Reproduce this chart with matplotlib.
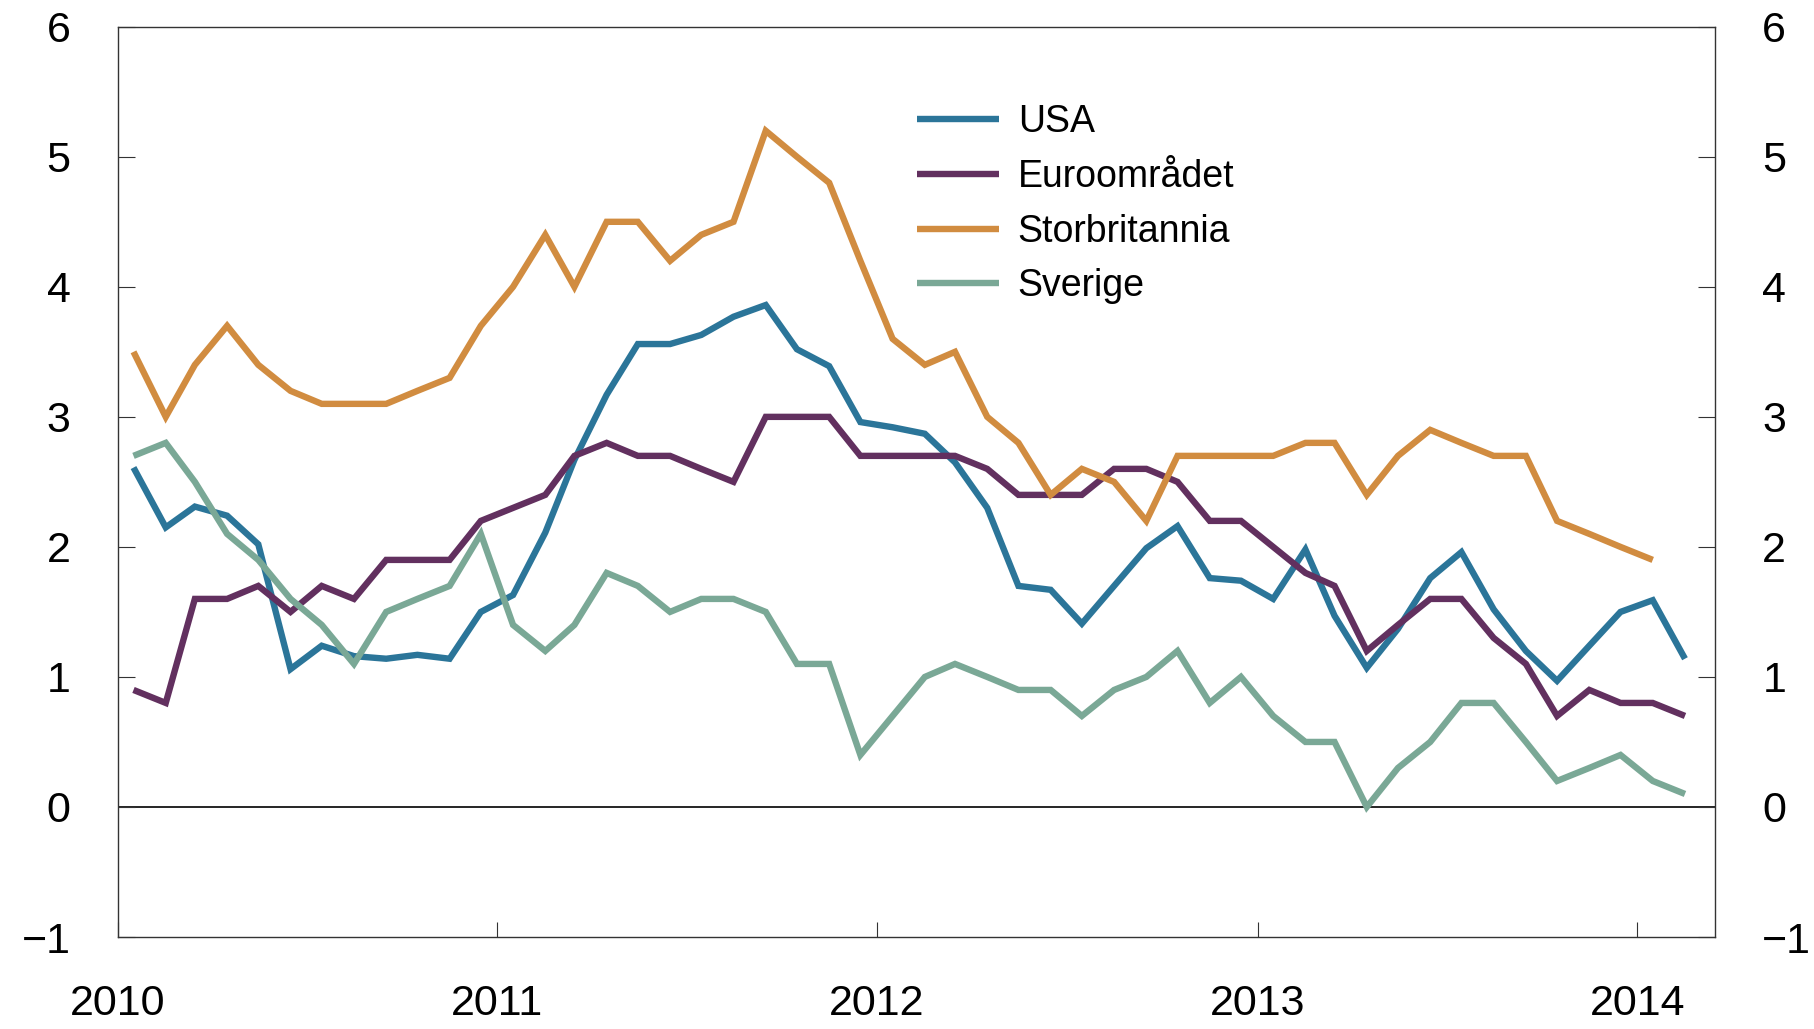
import numpy as np
import pandas as pd
import matplotlib
matplotlib.use("Agg")
import matplotlib.pyplot as plt
import matplotlib.dates as mdates

plt.rcParams['font.family'] = ['Liberation Sans', 'DejaVu Sans']

# månedlige observasjoner, jan 2010 -
usa = [2.61, 2.15, 2.31, 2.24, 2.02, 1.06, 1.24, 1.16, 1.14, 1.17,
       1.14, 1.50, 1.63, 2.11, 2.67, 3.17, 3.56, 3.56, 3.63, 3.77,
       3.86, 3.52, 3.39, 2.96, 2.92, 2.87, 2.65, 2.30, 1.70, 1.67,
       1.41, 1.70, 1.99, 2.16, 1.76, 1.74, 1.60, 1.98, 1.47, 1.07,
       1.37, 1.76, 1.96, 1.52, 1.20, 0.97, 1.24, 1.50, 1.59, 1.14]
euro = [0.9, 0.8, 1.6, 1.6, 1.7, 1.5, 1.7, 1.6, 1.9, 1.9,
        1.9, 2.2, 2.3, 2.4, 2.7, 2.8, 2.7, 2.7, 2.6, 2.5,
        3.0, 3.0, 3.0, 2.7, 2.7, 2.7, 2.7, 2.6, 2.4, 2.4,
        2.4, 2.6, 2.6, 2.5, 2.2, 2.2, 2.0, 1.8, 1.7, 1.2,
        1.4, 1.6, 1.6, 1.3, 1.1, 0.7, 0.9, 0.8, 0.8, 0.7]
uk = [3.5, 3.0, 3.4, 3.7, 3.4, 3.2, 3.1, 3.1, 3.1, 3.2,
      3.3, 3.7, 4.0, 4.4, 4.0, 4.5, 4.5, 4.2, 4.4, 4.5,
      5.2, 5.0, 4.8, 4.2, 3.6, 3.4, 3.5, 3.0, 2.8, 2.4,
      2.6, 2.5, 2.2, 2.7, 2.7, 2.7, 2.7, 2.8, 2.8, 2.4,
      2.7, 2.9, 2.8, 2.7, 2.7, 2.2, 2.1, 2.0, 1.9]
sverige = [2.7, 2.8, 2.5, 2.1, 1.9, 1.6, 1.4, 1.1, 1.5, 1.6,
           1.7, 2.1, 1.4, 1.2, 1.4, 1.8, 1.7, 1.5, 1.6, 1.6,
           1.5, 1.1, 1.1, 0.4, 0.7, 1.0, 1.1, 1.0, 0.9, 0.9,
           0.7, 0.9, 1.0, 1.2, 0.8, 1.0, 0.7, 0.5, 0.5, 0.0,
           0.3, 0.5, 0.8, 0.8, 0.5, 0.2, 0.3, 0.4, 0.2, 0.1]

labels = ["USA", "Euroområdet", "Storbritannia", "Sverige"]
colors = ["#2B7599", "#62305F", "#D18C40", "#7AA896"]
series = [usa, euro, uk, sverige]

# punktene ligger midt i måneden
months = pd.date_range("2010-01-01", periods=50, freq="MS") + pd.Timedelta(days=15)

fig = plt.figure(figsize=(18.14, 10.29), dpi=100)
ax = fig.add_axes([0.065, 0.0894, 0.8805, 0.8846])

for vals, lab, col in zip(series, labels, colors):
    ax.plot(months[:len(vals)], vals, color=col, lw=4.6, label=lab,
            solid_capstyle="butt", solid_joinstyle="miter")

ax.axhline(0, color="black", lw=1.2, zorder=1)

ax.set_ylim(-1, 6)
ax.set_yticks(range(-1, 7))
ax.set_xlim(pd.Timestamp("2010-01-01"), pd.Timestamp("2014-03-17"))
ax.xaxis.set_major_locator(mdates.YearLocator())
ax.xaxis.set_major_formatter(mdates.DateFormatter("%Y"))

for s in ax.spines.values():
    s.set_linewidth(1.0)
    s.set_color("#333333")

ax.tick_params(axis="y", direction="in", length=12, width=0.8, labelsize=31,
               pad=34, left=True, right=True, labelleft=True, labelright=True,
               color="#333333")
ax.tick_params(axis="x", direction="in", length=11, width=0.8, labelsize=31,
               pad=34, color="#333333")

ax.legend(loc="upper left", bbox_to_anchor=(0.5, 0.915), frameon=False,
          fontsize=27, handlelength=2.2, handletextpad=0.5, labelspacing=0.5,
          borderpad=0, borderaxespad=0)

fig.savefig("out.png", dpi=100)
